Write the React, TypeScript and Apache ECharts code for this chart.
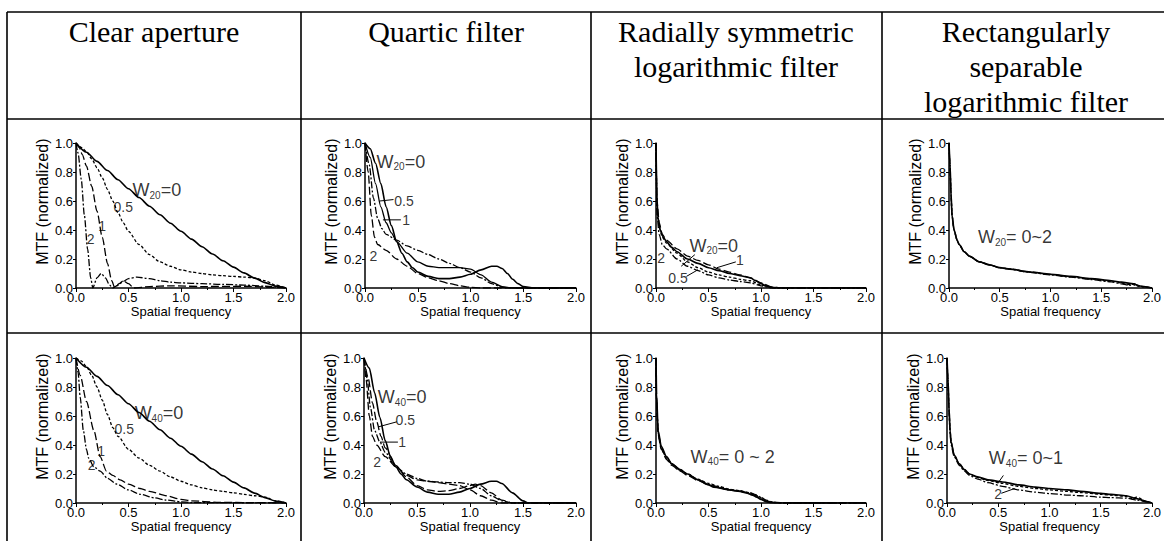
import React, { useEffect, useRef } from "react";
import * as echarts from "echarts";

type P = [number, number];

const headers = ["Clear aperture", "Quartic filter", "Radially symmetric\nlogarithmic filter", "Rectangularly\nseparable\nlogarithmic filter"];

// ---- Clear aperture, W20 ----
const clearW20_0: P[] = [[0,1],[0.1,0.936],[0.2,0.873],[0.3,0.81],[0.4,0.747],[0.5,0.685],[0.6,0.624],[0.7,0.564],[0.8,0.505],[0.9,0.447],[1.0,0.391],[1.1,0.337],[1.2,0.285],[1.3,0.235],[1.4,0.188],[1.5,0.144],[1.6,0.104],[1.7,0.068],[1.8,0.037],[1.9,0.013],[2.0,0]];
const clearW20_05: P[] = [[0,1],[0.05,0.97],[0.1,0.94],[0.15,0.89],[0.2,0.83],[0.25,0.76],[0.3,0.68],[0.35,0.6],[0.4,0.52],[0.45,0.45],[0.5,0.39],[0.6,0.3],[0.7,0.23],[0.8,0.18],[0.9,0.15],[1.0,0.125],[1.1,0.11],[1.2,0.1],[1.3,0.09],[1.4,0.085],[1.5,0.08],[1.6,0.075],[1.7,0.07],[1.8,0.05],[1.9,0.02],[2.0,0]];
const clearW20_1: P[] = [[0,1],[0.03,0.97],[0.06,0.92],[0.1,0.84],[0.15,0.7],[0.2,0.53],[0.25,0.35],[0.3,0.17],[0.34,0.05],[0.37,0.0],[0.41,0.03],[0.45,0.05],[0.5,0.03],[0.55,0.0],[0.7,0.01],[0.9,0.015],[1.2,0.01],[1.6,0.012],[2.0,0]];
const clearW20_2: P[] = [[0,1],[0.02,0.93],[0.05,0.75],[0.08,0.5],[0.11,0.27],[0.14,0.07],[0.16,0.0],[0.2,0.07],[0.24,0.1],[0.28,0.07],[0.32,0.02],[0.35,0.0],[0.4,0.02],[0.45,0.045],[0.5,0.065],[0.58,0.075],[0.7,0.065],[0.8,0.05],[0.9,0.04],[1.0,0.035],[1.2,0.03],[1.4,0.025],[1.6,0.02],[1.8,0.012],[2.0,0]];

// ---- Quartic filter, W20 ----
const quartW20_0: P[] = [[0,1],[0.05,0.96],[0.1,0.86],[0.15,0.72],[0.2,0.56],[0.25,0.43],[0.3,0.32],[0.35,0.24],[0.4,0.18],[0.45,0.14],[0.5,0.11],[0.6,0.08],[0.7,0.065],[0.8,0.065],[0.9,0.075],[1.0,0.095],[1.1,0.125],[1.2,0.15],[1.25,0.15],[1.3,0.135],[1.35,0.1],[1.4,0.06],[1.45,0.03],[1.5,0.01],[1.6,0],[2,0]];
const quartW20_05: P[] = [[0,1],[0.05,0.9],[0.1,0.72],[0.15,0.56],[0.2,0.45],[0.25,0.38],[0.3,0.32],[0.4,0.24],[0.5,0.18],[0.6,0.15],[0.7,0.14],[0.8,0.14],[0.9,0.14],[1.0,0.13],[1.1,0.09],[1.2,0.04],[1.3,0.01],[1.4,0],[2,0]];
const quartW20_1: P[] = [[0,1],[0.04,0.85],[0.08,0.62],[0.12,0.48],[0.16,0.41],[0.2,0.37],[0.3,0.33],[0.4,0.29],[0.5,0.26],[0.6,0.23],[0.7,0.2],[0.8,0.17],[0.9,0.14],[1.0,0.11],[1.1,0.07],[1.2,0.03],[1.3,0.005],[1.4,0],[2,0]];
const quartW20_2: P[] = [[0,1],[0.03,0.8],[0.06,0.5],[0.09,0.35],[0.12,0.3],[0.2,0.26],[0.3,0.2],[0.4,0.15],[0.5,0.1],[0.6,0.07],[0.7,0.05],[0.8,0.03],[0.9,0.015],[1.0,0.005],[1.1,0],[2,0]];

// ---- Radially symmetric log filter, W20 ----
const radW20_0: P[] = [[0,1],[0.01,0.6],[0.02,0.48],[0.04,0.4],[0.07,0.35],[0.1,0.32],[0.15,0.28],[0.2,0.25],[0.3,0.2],[0.4,0.17],[0.5,0.14],[0.6,0.12],[0.7,0.1],[0.8,0.085],[0.9,0.07],[0.95,0.05],[1.0,0.03],[1.05,0.015],[1.1,0.005],[1.15,0],[2,0]];
const radW20_05: P[] = [[0,1],[0.01,0.55],[0.03,0.42],[0.06,0.35],[0.1,0.31],[0.2,0.24],[0.3,0.18],[0.4,0.14],[0.5,0.11],[0.6,0.09],[0.7,0.075],[0.8,0.06],[0.9,0.05],[1.0,0.02],[1.1,0.003],[1.15,0],[2,0]];
const radW20_1: P[] = [[0,1],[0.01,0.6],[0.03,0.45],[0.06,0.37],[0.1,0.33],[0.2,0.27],[0.3,0.22],[0.4,0.19],[0.5,0.16],[0.6,0.13],[0.7,0.11],[0.8,0.09],[0.9,0.07],[1.0,0.035],[1.1,0.008],[1.2,0],[2,0]];
const radW20_2: P[] = [[0,1],[0.01,0.5],[0.03,0.37],[0.06,0.3],[0.1,0.27],[0.2,0.2],[0.3,0.15],[0.4,0.12],[0.5,0.09],[0.6,0.07],[0.7,0.055],[0.8,0.045],[0.9,0.035],[1.0,0.015],[1.1,0],[2,0]];

// ---- Rectangularly separable log filter, W20 ----
const rectW20_a: P[] = [[0,1],[0.01,0.85],[0.02,0.65],[0.03,0.5],[0.05,0.4],[0.08,0.33],[0.1,0.3],[0.15,0.25],[0.2,0.22],[0.3,0.18],[0.4,0.16],[0.5,0.14],[0.6,0.13],[0.8,0.11],[1.0,0.095],[1.2,0.08],[1.4,0.065],[1.6,0.05],[1.7,0.04],[1.8,0.03],[1.9,0.012],[2.0,0]];
const rectW20_b: P[] = [[0,1],[0.01,0.84],[0.02,0.64],[0.03,0.5],[0.05,0.4],[0.08,0.33],[0.1,0.3],[0.15,0.25],[0.2,0.22],[0.3,0.18],[0.4,0.16],[0.5,0.14],[0.6,0.13],[0.8,0.11],[1.0,0.093],[1.2,0.078],[1.4,0.062],[1.6,0.046],[1.7,0.034],[1.75,0.022],[1.8,0.027],[1.85,0.015],[1.9,0.008],[2.0,0]];
const rectW20_c: P[] = [[0,1],[0.01,0.84],[0.02,0.64],[0.03,0.5],[0.05,0.4],[0.08,0.33],[0.1,0.3],[0.15,0.25],[0.2,0.22],[0.3,0.18],[0.4,0.16],[0.5,0.14],[0.6,0.13],[0.8,0.108],[1.0,0.09],[1.2,0.075],[1.4,0.058],[1.6,0.042],[1.7,0.028],[1.78,0.018],[1.82,0.03],[1.88,0.012],[2.0,0]];

// ---- Clear aperture, W40 ----
const clearW40_0: P[] = [[0,1],[0.1,0.936],[0.2,0.873],[0.3,0.81],[0.4,0.747],[0.5,0.685],[0.6,0.624],[0.7,0.564],[0.8,0.505],[0.9,0.447],[1.0,0.391],[1.1,0.337],[1.2,0.285],[1.3,0.235],[1.4,0.188],[1.5,0.144],[1.6,0.104],[1.7,0.068],[1.8,0.037],[1.9,0.013],[2.0,0]];
const clearW40_05: P[] = [[0,1],[0.05,0.98],[0.1,0.94],[0.15,0.88],[0.2,0.8],[0.25,0.71],[0.3,0.61],[0.35,0.52],[0.4,0.46],[0.5,0.37],[0.6,0.31],[0.7,0.26],[0.8,0.22],[0.9,0.18],[1.0,0.15],[1.1,0.125],[1.2,0.105],[1.3,0.09],[1.4,0.08],[1.5,0.07],[1.6,0.06],[1.7,0.05],[1.8,0.04],[1.9,0.015],[2.0,0]];
const clearW40_1: P[] = [[0,1],[0.04,0.88],[0.1,0.7],[0.17,0.5],[0.23,0.32],[0.29,0.22],[0.35,0.19],[0.42,0.16],[0.5,0.13],[0.61,0.1],[0.7,0.08],[0.86,0.05],[1.0,0.025],[1.1,0.015],[1.34,0.005],[1.6,0.003],[2.0,0]];
const clearW40_2: P[] = [[0,1],[0.02,0.9],[0.04,0.73],[0.07,0.5],[0.1,0.37],[0.12,0.31],[0.17,0.25],[0.23,0.22],[0.3,0.17],[0.39,0.13],[0.5,0.09],[0.61,0.06],[0.75,0.035],[0.86,0.02],[1.0,0.008],[1.1,0.003],[1.5,0.002],[2.0,0]];

// ---- Quartic filter, W40 ----
const quartW40_0: P[] = [[0,1],[0.05,0.93],[0.1,0.76],[0.15,0.59],[0.2,0.43],[0.25,0.32],[0.3,0.25],[0.35,0.2],[0.4,0.16],[0.5,0.11],[0.6,0.075],[0.7,0.06],[0.8,0.06],[0.9,0.075],[1.0,0.1],[1.1,0.13],[1.2,0.15],[1.25,0.15],[1.3,0.135],[1.4,0.07],[1.5,0.015],[1.55,0],[2,0]];
const quartW40_05: P[] = [[0,1],[0.04,0.86],[0.08,0.69],[0.12,0.56],[0.16,0.46],[0.2,0.38],[0.3,0.26],[0.4,0.18],[0.5,0.12],[0.6,0.09],[0.7,0.08],[0.8,0.085],[0.9,0.1],[1.0,0.12],[1.05,0.13],[1.1,0.12],[1.2,0.07],[1.3,0.02],[1.4,0],[2,0]];
const quartW40_1: P[] = [[0,1],[0.03,0.86],[0.06,0.66],[0.1,0.5],[0.15,0.42],[0.2,0.35],[0.3,0.25],[0.4,0.2],[0.5,0.17],[0.6,0.15],[0.7,0.145],[0.8,0.14],[0.9,0.14],[1.0,0.13],[1.1,0.1],[1.2,0.05],[1.3,0.015],[1.4,0],[2,0]];
const quartW40_2: P[] = [[0,1],[0.02,0.85],[0.05,0.6],[0.08,0.46],[0.12,0.4],[0.2,0.32],[0.3,0.25],[0.4,0.19],[0.5,0.16],[0.6,0.15],[0.7,0.14],[0.8,0.13],[0.9,0.12],[1.0,0.09],[1.1,0.05],[1.2,0.02],[1.3,0],[2,0]];

// ---- Radially symmetric log filter, W40 ----
const radW40_a: P[] = [[0,1],[0.005,0.75],[0.02,0.5],[0.05,0.39],[0.1,0.32],[0.15,0.27],[0.23,0.23],[0.3,0.2],[0.4,0.16],[0.5,0.125],[0.55,0.11],[0.7,0.09],[0.8,0.08],[0.86,0.07],[0.92,0.055],[0.96,0.04],[1.0,0.025],[1.05,0.01],[1.1,0.003],[1.15,0],[2,0]];
const radW40_b: P[] = [[0,1],[0.005,0.72],[0.02,0.48],[0.05,0.38],[0.1,0.31],[0.15,0.27],[0.23,0.23],[0.3,0.2],[0.4,0.165],[0.5,0.135],[0.6,0.115],[0.7,0.095],[0.8,0.085],[0.9,0.07],[0.95,0.055],[1.0,0.035],[1.05,0.017],[1.1,0.005],[1.2,0],[2,0]];
const radW40_c: P[] = [[0,1],[0.005,0.7],[0.02,0.47],[0.05,0.37],[0.1,0.3],[0.15,0.26],[0.23,0.22],[0.3,0.19],[0.4,0.155],[0.5,0.125],[0.6,0.105],[0.7,0.09],[0.8,0.08],[0.9,0.065],[0.95,0.05],[1.0,0.03],[1.05,0.012],[1.1,0.004],[1.2,0],[2,0]];
const radW40_d: P[] = [[0,1],[0.005,0.73],[0.02,0.49],[0.05,0.38],[0.1,0.31],[0.15,0.27],[0.23,0.225],[0.3,0.2],[0.4,0.16],[0.5,0.13],[0.6,0.11],[0.7,0.09],[0.8,0.082],[0.88,0.072],[0.94,0.06],[1.0,0.04],[1.05,0.02],[1.12,0.006],[1.25,0],[2,0]];

// ---- Rectangularly separable log filter, W40 ----
const rectW40_0: P[] = [[0,1],[0.01,0.85],[0.02,0.65],[0.03,0.5],[0.04,0.42],[0.07,0.33],[0.12,0.27],[0.17,0.23],[0.22,0.2],[0.3,0.18],[0.4,0.16],[0.54,0.145],[0.7,0.125],[0.86,0.11],[1.0,0.1],[1.18,0.09],[1.3,0.08],[1.5,0.067],[1.6,0.06],[1.75,0.05],[1.85,0.03],[1.95,0.01],[2.0,0]];
const rectW40_1: P[] = [[0,1],[0.01,0.84],[0.02,0.64],[0.03,0.5],[0.04,0.42],[0.07,0.33],[0.12,0.27],[0.17,0.23],[0.22,0.2],[0.3,0.175],[0.4,0.155],[0.54,0.135],[0.7,0.115],[0.86,0.1],[1.0,0.09],[1.18,0.08],[1.3,0.072],[1.5,0.06],[1.6,0.054],[1.75,0.045],[1.8,0.03],[1.85,0.04],[1.95,0.01],[2.0,0]];
const rectW40_2: P[] = [[0,1],[0.01,0.82],[0.02,0.62],[0.03,0.48],[0.04,0.4],[0.07,0.32],[0.12,0.26],[0.17,0.22],[0.22,0.19],[0.3,0.165],[0.4,0.14],[0.54,0.115],[0.7,0.09],[0.86,0.075],[1.0,0.065],[1.18,0.055],[1.3,0.05],[1.5,0.04],[1.6,0.037],[1.75,0.033],[1.85,0.02],[1.95,0.008],[2.0,0]];

// annotations: [grid, x, y, text]
const labels: [number, number, number, string][] = [
  [0, 0.77, 0.675, "{w|W}{s|20}{w|=0}"],
  [0, 0.45, 0.56, "{n|0.5}"],
  [0, 0.25, 0.43, "{n|1}"],
  [0, 0.14, 0.34, "{n|2}"],
  [1, 0.34, 0.87, "{w|W}{s|20}{w|=0}"],
  [1, 0.37, 0.6, "{n|0.5}"],
  [1, 0.39, 0.47, "{n|1}"],
  [1, 0.08, 0.22, "{n|2}"],
  [2, 0.55, 0.29, "{w|W}{s|20}{w|=0}"],
  [2, 0.8, 0.195, "{n|1}"],
  [2, 0.21, 0.07, "{n|0.5}"],
  [2, 0.05, 0.21, "{n|2}"],
  [3, 0.65, 0.35, "{w|W}{s|20}{w|= 0~2}"],
  [4, 0.79, 0.62, "{w|W}{s|40}{w|=0}"],
  [4, 0.46, 0.51, "{n|0.5}"],
  [4, 0.24, 0.36, "{n|1}"],
  [4, 0.15, 0.26, "{n|2}"],
  [5, 0.36, 0.73, "{w|W}{s|40}{w|=0}"],
  [5, 0.39, 0.57, "{n|0.5}"],
  [5, 0.36, 0.42, "{n|1}"],
  [5, 0.125, 0.285, "{n|2}"],
  [6, 0.73, 0.32, "{w|W}{s|40}{w|= 0 ~ 2}"],
  [7, 0.77, 0.31, "{w|W}{s|40}{w|= 0~1}"],
  [7, 0.5, 0.06, "{n|2}"],
];

// leader lines: [grid, x1, y1, x2, y2]
const leaders: [number, number, number, number, number][] = [
  [1, 0.14, 0.6, 0.27, 0.61],
  [1, 0.17, 0.47, 0.34, 0.47],
  [2, 0.37, 0.23, 0.24, 0.15],
  [2, 0.76, 0.18, 0.58, 0.14],
  [2, 0.29, 0.08, 0.4, 0.126],
  [5, 0.135, 0.525, 0.31, 0.56],
  [5, 0.15, 0.42, 0.32, 0.42],
  [7, 0.55, 0.19, 0.5, 0.14],
  [7, 0.53, 0.067, 0.66, 0.1],
];

const SANS = "Liberation Sans";
const SERIF = "Liberation Serif";

const DASH_SHORT = [3, 2];
const DASH_LONG = [8, 3];
const DASH_DOT = [7, 2, 2, 2];

const grids = [
  { left: 76, top: 143, width: 210, height: 145 },
  { left: 365, top: 143, width: 211, height: 145 },
  { left: 656, top: 143, width: 210, height: 145 },
  { left: 949, top: 143, width: 207, height: 145 },
  { left: 76, top: 358, width: 210, height: 145 },
  { left: 364, top: 358, width: 212, height: 145 },
  { left: 656, top: 358, width: 210, height: 145 },
  { left: 947, top: 358, width: 209, height: 145 },
];

function curve(g: number, data: P[], type: any, width = 1.3) {
  return {
    type: "line",
    xAxisIndex: g,
    yAxisIndex: g,
    data,
    symbol: "none",
    smooth: 0.25,
    smoothMonotone: "x",
    lineStyle: { color: "#000", width, type },
    z: 3,
  };
}

export default function App() {
  const ref = useRef<HTMLDivElement>(null);
  useEffect(() => {
    document.body.style.margin = "0";
    const chart = echarts.init(ref.current!, undefined, { renderer: "svg" });

    const series: any[] = [
      curve(0, clearW20_0, "solid", 1.6),
      curve(0, clearW20_05, DASH_SHORT),
      curve(0, clearW20_1, DASH_LONG),
      curve(0, clearW20_2, DASH_DOT),
      curve(1, quartW20_0, "solid", 1.6),
      curve(1, quartW20_05, "solid"),
      curve(1, quartW20_1, DASH_DOT),
      curve(1, quartW20_2, DASH_LONG),
      curve(2, radW20_0, "solid", 1.6),
      curve(2, radW20_05, DASH_SHORT),
      curve(2, radW20_1, DASH_LONG),
      curve(2, radW20_2, DASH_DOT),
      curve(3, rectW20_a, "solid", 1.7),
      curve(3, rectW20_b, DASH_SHORT),
      curve(3, rectW20_c, DASH_DOT),
      curve(4, clearW40_0, "solid", 1.6),
      curve(4, clearW40_05, DASH_SHORT),
      curve(4, clearW40_1, DASH_LONG),
      curve(4, clearW40_2, DASH_DOT),
      curve(5, quartW40_0, "solid", 1.6),
      curve(5, quartW40_05, DASH_LONG),
      curve(5, quartW40_1, DASH_DOT),
      curve(5, quartW40_2, DASH_LONG),
      curve(6, radW40_a, "solid", 1.7),
      curve(6, radW40_b, DASH_SHORT),
      curve(6, radW40_c, DASH_LONG),
      curve(6, radW40_d, DASH_DOT),
      curve(7, rectW40_0, "solid", 1.7),
      curve(7, rectW40_1, DASH_SHORT),
      curve(7, rectW40_2, DASH_DOT),
    ];

    leaders.forEach(([g, x1, y1, x2, y2]) => {
      series.push({
        type: "line",
        xAxisIndex: g,
        yAxisIndex: g,
        data: [[x1, y1], [x2, y2]],
        symbol: "none",
        lineStyle: { color: "#000", width: 1 },
        z: 4,
      });
    });

    for (let g = 0; g < 8; g++) {
      const items = labels.filter((l) => l[0] === g);
      if (!items.length) continue;
      series.push({
        type: "scatter",
        xAxisIndex: g,
        yAxisIndex: g,
        symbolSize: 1,
        itemStyle: { color: "rgba(0,0,0,0)" },
        data: items.map((l) => [l[1], l[2], l[3]]),
        z: 5,
        label: {
          show: true,
          position: "inside",
          formatter: (p: any) => p.data[2],
          rich: {
            w: { fontSize: 18, fontFamily: SANS, color: "#000", lineHeight: 20 },
            s: { fontSize: 10, fontFamily: SANS, color: "#000", lineHeight: 10, verticalAlign: "bottom" },
            n: { fontSize: 14, fontFamily: SANS, color: "#000", lineHeight: 16 },
          },
        },
      });
    }

    const xAxis = grids.map((_, i) => ({
      gridIndex: i,
      type: "value",
      min: 0,
      max: 2,
      interval: 0.5,
      name: "Spatial frequency",
      nameLocation: "middle",
      nameGap: 17,
      nameTextStyle: { fontSize: 13, fontFamily: SANS, color: "#000" },
      axisLine: { onZero: false, lineStyle: { color: "#000", width: 1.5 } },
      axisTick: { show: true, length: 4, lineStyle: { color: "#000", width: 1 } },
      minorTick: { show: true, splitNumber: 2, length: 2, lineStyle: { color: "#000" } },
      splitLine: { show: false },
      minorSplitLine: { show: false },
      axisLabel: { margin: 3, fontSize: 13, fontFamily: SANS, color: "#000", formatter: (v: number) => v.toFixed(1) },
    }));
    const yAxis = grids.map((_, i) => ({
      gridIndex: i,
      type: "value",
      min: 0,
      max: 1,
      interval: 0.2,
      name: "{m|MTF (normalized)}",
      nameLocation: "middle",
      nameRotate: 90,
      nameGap: 26,
      nameTextStyle: {
        fontSize: 16,
        fontFamily: SANS,
        color: "#000",
        rich: { m: { fontSize: 16, fontFamily: SANS, color: "#000", width: 154, align: "right" } },
      },
      axisLine: { show: true, onZero: false, lineStyle: { color: "#000", width: 1.5 } },
      axisTick: { show: true, length: 3, lineStyle: { color: "#000", width: 1 } },
      splitLine: { show: false },
      axisLabel: { margin: 3, fontSize: 13, fontFamily: SANS, color: "#000", formatter: (v: number) => v.toFixed(1) },
    }));

    const colX = [154, 446, 736, 1026];
    const border = { stroke: "#000", lineWidth: 1.6 };
    const graphic: any[] = [
      { type: "line", shape: { x1: 7, y1: 12, x2: 1164, y2: 12 }, style: border },
      { type: "line", shape: { x1: 7, y1: 119, x2: 1164, y2: 119 }, style: border },
      { type: "line", shape: { x1: 7, y1: 333, x2: 1164, y2: 333 }, style: border },
      ...[7, 301, 591, 882].map((x) => ({ type: "line", shape: { x1: x, y1: 12, x2: x, y2: 541 }, style: border })),
      ...headers.map((h, i) => ({
        type: "text",
        x: colX[i],
        y: 14,
        style: { text: h, fontSize: 30, fontFamily: SERIF, fill: "#000", align: "center", verticalAlign: "top", lineHeight: 35 },
      })),
    ];

    chart.setOption({
      animation: false,
      backgroundColor: "#fff",
      grid: grids,
      xAxis,
      yAxis,
      series,
      graphic,
    });
    return () => chart.dispose();
  }, []);
  return <div ref={ref} style={{ position: "absolute", left: 0, top: 0, width: 1164, height: 541 }} />;
}
